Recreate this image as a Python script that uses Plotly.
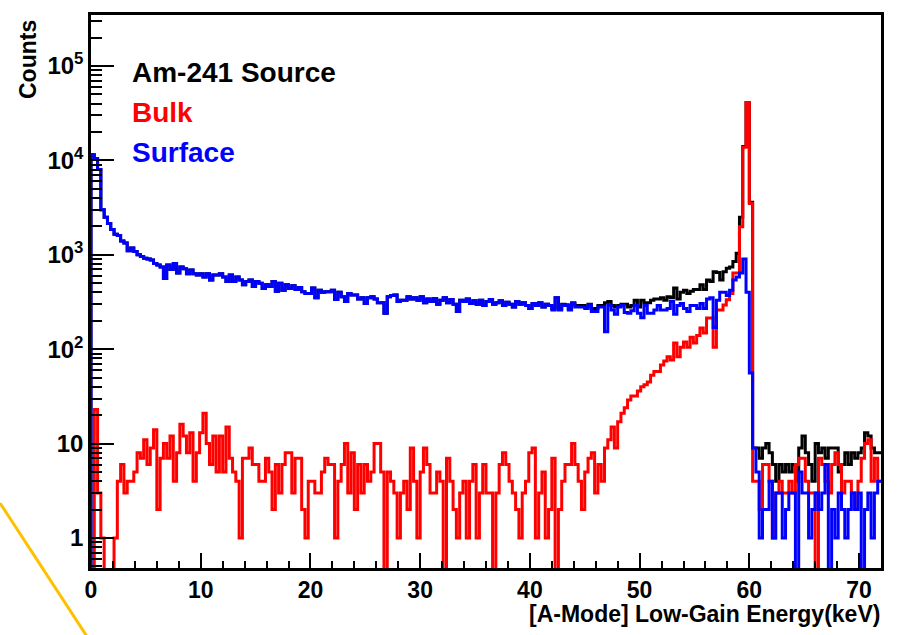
import numpy as np
import plotly.graph_objects as go

# ---------------- data (counts per 0.3 keV bin, 0-72 keV, 240 bins) ----------------
bin_width_kev = 0.3

surface = [
    11500, 10500, 8000, 3000, 2500, 2150, 1850, 1650, 1600, 1400,
    1330, 1100, 1180, 1080, 1000, 960, 920, 900, 880, 810,
    780, 740, 560, 780, 700, 810, 640, 740, 710, 630,
    690, 630, 610, 630, 580, 630, 540, 610, 610, 630,
    580, 520, 610, 520, 580, 540, 480, 520, 540, 460,
    520, 500, 440, 480, 460, 520, 410, 500, 420, 480,
    440, 470, 430, 450, 405, 390, 390, 445, 350, 420,
    400, 405, 405, 420, 335, 400, 360, 320, 390, 375,
    375, 340, 350, 305, 350, 360, 340, 310, 310, 240,
    360, 370, 375, 320, 330, 330, 360, 340, 350, 330,
    360, 310, 340, 320, 345, 300, 330, 350, 310, 335,
    300, 250, 330, 320, 340, 305, 325, 300, 330, 290,
    320, 335, 300, 310, 325, 290, 315, 300, 280, 320,
    300, 310, 290, 270, 305, 290, 310, 280, 300, 290,
    260, 350, 260, 295, 290, 260, 305, 280, 280, 280,
    270, 295, 250, 250, 280, 280, 153, 295, 260, 235,
    280, 290, 245, 240, 255, 290, 240, 215, 290, 240,
    240, 260, 290, 260, 260, 270, 320, 235, 290, 305,
    270, 250, 290, 290, 270, 305, 270, 340, 350, 170,
    330, 400, 400, 370, 420, 540, 580, 640, 900, 400,
    56, 9, 5, 1, 2, 2, 4, 1, 3, 3,
    1, 2, 3, 3, 0, 5, 3, 3, 1, 2,
    3, 2, 3, 6, 0, 2, 1, 3, 2, 1,
    2, 3, 2, 3, 0, 2, 3, 1, 3, 4,
]

bulk = [
    0, 23, 3, 1, 0, 0, 0, 1, 4, 6,
    3, 4, 4, 5, 8, 7, 11, 6, 9, 14,
    2, 7, 10, 7, 12, 4, 8, 16, 12, 8,
    13, 4, 8, 13, 21, 10, 6, 12, 5, 12,
    5, 15, 7, 5, 4, 1, 7, 7, 9, 6,
    6, 4, 4, 7, 5, 2, 6, 3, 6, 8,
    8, 3, 7, 7, 2, 1, 4, 4, 3, 3,
    5, 7, 6, 6, 1, 4, 6, 10, 3, 8,
    2, 6, 3, 6, 4, 5, 10, 10, 5, 0,
    5, 4, 3, 1, 3, 4, 2, 9, 4, 1,
    5, 9, 6, 3, 3, 5, 4, 0, 7, 4,
    2, 1, 3, 4, 1, 4, 6, 1, 3, 6,
    3, 3, 0, 3, 6, 8, 6, 4, 3, 2,
    1, 3, 4, 8, 9, 1, 3, 5, 1, 2,
    7, 0, 2, 4, 6, 6, 10, 6, 4, 2,
    5, 7, 8, 3, 6, 4, 9, 11, 15, 9,
    17, 21, 24, 29, 32, 32, 36, 40, 42, 45,
    53, 58, 58, 68, 75, 83, 77, 116, 83, 105,
    119, 105, 134, 116, 140, 168, 148, 214, 214, 105,
    260, 260, 294, 333, 390, 640, 640, 1980, 13800, 41000,
    3500, 4, 4, 2, 6, 6, 4, 1, 3, 4,
    3, 3, 4, 3, 6, 7, 7, 4, 3, 3,
    0, 7, 6, 4, 3, 6, 8, 6, 3, 4,
    4, 3, 2, 4, 7, 10, 11, 4, 7, 4,
]

source = [
    11500, 10500, 8000, 3000, 2500, 2150, 1850, 1650, 1600, 1400,
    1330, 1100, 1180, 1080, 1000, 960, 920, 900, 880, 810,
    780, 740, 560, 780, 700, 810, 640, 740, 710, 630,
    690, 630, 610, 630, 580, 630, 540, 610, 610, 630,
    580, 520, 610, 520, 580, 540, 480, 520, 540, 460,
    520, 500, 440, 480, 460, 520, 410, 500, 420, 480,
    440, 470, 430, 450, 405, 390, 390, 445, 350, 420,
    400, 405, 405, 420, 335, 400, 360, 320, 390, 375,
    375, 340, 350, 305, 350, 360, 340, 310, 310, 240,
    360, 370, 375, 320, 330, 330, 360, 340, 350, 330,
    360, 310, 340, 320, 345, 300, 330, 350, 310, 335,
    300, 250, 330, 320, 340, 305, 325, 300, 330, 290,
    320, 335, 300, 310, 325, 290, 315, 300, 280, 320,
    300, 310, 290, 270, 305, 290, 310, 280, 300, 290,
    270, 350, 270, 300, 295, 270, 310, 290, 290, 290,
    280, 300, 265, 270, 290, 290, 310, 320, 290, 280,
    290, 300, 300, 280, 290, 330, 280, 330, 310, 310,
    330, 340, 340, 350, 330, 360, 350, 445, 340, 400,
    420, 390, 410, 430, 430, 480, 430, 540, 520, 660,
    650, 540, 660, 720, 740, 850, 1040, 2500, 14000, 41000,
    3600, 9, 9, 7, 9, 10, 8, 6, 4, 6,
    5, 6, 5, 6, 4, 9, 12, 8, 6, 4,
    10, 8, 9, 7, 9, 9, 9, 5, 6, 8,
    6, 8, 7, 8, 9, 13, 12, 9, 8, 8,
]

y_tick_values = [1, 10, 100, 1000, 10000, 100000]
y_tick_labels = ["1", "10", "10<sup>2</sup>", "10<sup>3</sup>", "10<sup>4</sup>", "10<sup>5</sup>"]

series_names = ["Am-241 Source", "Bulk", "Surface"]
series_colors = ["#000000", "#ff0000", "#0000ff"]

# ---------------- histogram outlines ----------------
edges = np.arange(len(surface) + 1) * bin_width_kev
FLOOR = 1e-3  # empty bins fall below the visible log range


def step_xy(counts):
    c = np.asarray(counts, dtype=float)
    c = np.where(c > 0, c, FLOOR)
    x = np.concatenate([[edges[0]], edges[:-1], [edges[-1]]])
    y = np.concatenate([[FLOOR], c, [c[-1]]])
    return x, y


fig = go.Figure()
for name, counts, color in zip(series_names, [source, bulk, surface], series_colors):
    x, y = step_xy(counts)
    fig.add_trace(go.Scatter(x=x, y=y, mode="lines", name=name,
                             line=dict(color=color, width=3, shape="hv"),
                             hoverinfo="skip"))

FONT = "Liberation Sans"

fig.update_layout(
    width=904, height=635,
    margin=dict(l=91, r=23, t=15, b=67),
    plot_bgcolor="white", paper_bgcolor="white",
    showlegend=False,
)

fig.update_xaxes(
    range=[0, 72], showgrid=False, zeroline=False,
    showline=True, linecolor="black", linewidth=2.5, mirror=True,
    ticks="inside", ticklen=15, tickwidth=2, tickcolor="black",
    tick0=0, dtick=10,
    minor=dict(dtick=2, ticks="inside", ticklen=7, tickwidth=1.5, tickcolor="black", showgrid=False),
    tickfont=dict(family=FONT, size=23, color="black", weight="bold"),
)

minor_y = [k * 10.0 ** d for d in range(-1, 6) for k in range(2, 10)]
fig.update_yaxes(
    type="log", range=[-0.318, 5.54], showgrid=False, zeroline=False,
    showline=True, linecolor="black", linewidth=2.5, mirror=True,
    ticks="inside", ticklen=23, tickwidth=2, tickcolor="black",
    tickmode="array", tickvals=y_tick_values, ticktext=y_tick_labels,
    minor=dict(tickmode="array", tickvals=minor_y, ticks="inside", ticklen=11,
               tickwidth=1.5, tickcolor="black", showgrid=False),
    tickfont=dict(family=FONT, size=24, color="black", weight="bold"),
)

# legend-like labels (as drawn in the reference)
legend_y_px = [72, 112, 152]
for name, color, ypx in zip(series_names, series_colors, legend_y_px):
    fig.add_annotation(text=f"<b>{name}</b>", xref="paper", yref="paper",
                       x=(130 - 91) / 790, y=(568 - ypx) / 553,
                       xanchor="left", yanchor="middle", showarrow=False,
                       font=dict(family=FONT, size=28, color=color))

# axis titles
fig.add_annotation(text="<b>[A-Mode] Low-Gain Energy(keV)</b>", xref="paper", yref="paper",
                   x=1.0, y=(568 - 614) / 553, xanchor="right", yanchor="middle",
                   showarrow=False, borderpad=0,
                   font=dict(family=FONT, size=23, color="black"))
fig.add_annotation(text="<b>Counts</b>", xref="paper", yref="paper",
                   x=(28 - 91) / 790, y=(568 - 60) / 553, xanchor="center", yanchor="middle",
                   textangle=-90, showarrow=False, font=dict(family=FONT, size=23, color="black"))

# orange stroke crossing the lower-left corner of the picture
fig.add_shape(type="line", xref="paper", yref="paper",
              x0=(0 - 91) / 790, y0=(568 - 503) / 553,
              x1=(88 - 91) / 790, y1=(568 - 638) / 553,
              line=dict(color="#FFC000", width=3), layer="above")

fig.write_html("out.html")
